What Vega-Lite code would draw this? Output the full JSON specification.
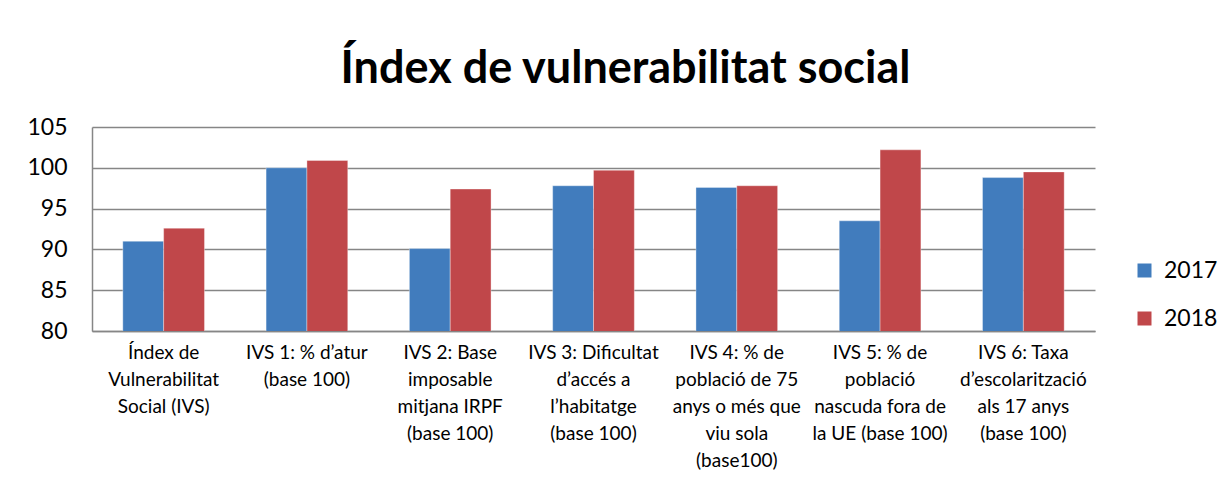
{
  "$schema": "https://vega.github.io/schema/vega-lite/v6.json",
  "width": 1003,
  "height": 204,
  "autosize": {"type": "none"},
  "padding": {"left": 92, "top": 127, "right": 132, "bottom": 153},
  "background": "white",
  "title": {
    "text": "Índex de vulnerabilitat social",
    "font": "Lato",
    "fontSize": 45,
    "fontWeight": "bold",
    "color": "#000000",
    "anchor": "middle",
    "frame": "group",
    "dx": 32,
    "offset": 24
  },
  "data": {
    "values": [
      {"cat": "Índex de|Vulnerabilitat|Social (IVS)", "year": "2017", "value": 91.0},
      {"cat": "Índex de|Vulnerabilitat|Social (IVS)", "year": "2018", "value": 92.6},
      {"cat": "IVS 1: % d’atur|(base 100)", "year": "2017", "value": 100.0},
      {"cat": "IVS 1: % d’atur|(base 100)", "year": "2018", "value": 100.9},
      {"cat": "IVS 2: Base|imposable|mitjana IRPF|(base 100)", "year": "2017", "value": 90.1},
      {"cat": "IVS 2: Base|imposable|mitjana IRPF|(base 100)", "year": "2018", "value": 97.4},
      {"cat": "IVS 3: Dificultat|d’accés a|l’habitatge|(base 100)", "year": "2017", "value": 97.8},
      {"cat": "IVS 3: Dificultat|d’accés a|l’habitatge|(base 100)", "year": "2018", "value": 99.7},
      {"cat": "IVS 4: % de|població de 75|anys o més que|viu sola|(base100)", "year": "2017", "value": 97.6},
      {"cat": "IVS 4: % de|població de 75|anys o més que|viu sola|(base100)", "year": "2018", "value": 97.8},
      {"cat": "IVS 5: % de|població|nascuda fora de|la UE (base 100)", "year": "2017", "value": 93.5},
      {"cat": "IVS 5: % de|població|nascuda fora de|la UE (base 100)", "year": "2018", "value": 102.2},
      {"cat": "IVS 6: Taxa|d’escolarització|als 17 anys|(base 100)", "year": "2017", "value": 98.8},
      {"cat": "IVS 6: Taxa|d’escolarització|als 17 anys|(base 100)", "year": "2018", "value": 99.5}
    ]
  },
  "mark": {"type": "bar", "clip": true, "stroke": "white", "strokeOpacity": 0.35, "strokeWidth": 1},
  "encoding": {
    "x": {
      "field": "cat",
      "type": "nominal",
      "sort": null,
      "scale": {"paddingInner": 0.43, "paddingOuter": 0.215},
      "axis": {
        "title": null,
        "labelAngle": 0,
        "labelExpr": "split(datum.label, '|')",
        "labelFont": "Lato",
        "labelFontSize": 19,
        "labelColor": "#000000",
        "labelLineHeight": 27,
        "labelBaseline": "top",
        "labelPadding": 12,
        "labelLimit": 0,
        "ticks": false,
        "domainColor": "#868686",
        "domainWidth": 1.5,
        "grid": false
      }
    },
    "xOffset": {"field": "year", "type": "nominal", "scale": {"paddingInner": 0, "paddingOuter": 0}},
    "y": {
      "field": "value",
      "type": "quantitative",
      "scale": {"domain": [80, 105], "zero": false, "nice": false},
      "axis": {
        "title": null,
        "values": [80, 85, 90, 95, 100, 105],
        "labelFont": "Lato",
        "labelFontSize": 23,
        "labelColor": "#000000",
        "labelPadding": 25,
        "ticks": false,
        "domainColor": "#868686",
        "domainWidth": 1.5,
        "gridColor": "#868686",
        "gridWidth": 1.5
      }
    },
    "color": {
      "field": "year",
      "type": "nominal",
      "scale": {"domain": ["2017", "2018"], "range": ["#417CBD", "#C0474A"]},
      "legend": {
        "title": null,
        "orient": "none",
        "legendX": 1041,
        "legendY": 132,
        "padding": 0,
        "symbolType": "square",
        "symbolSize": 196,
        "symbolStrokeWidth": 0,
        "labelFont": "Lato",
        "labelFontSize": 23,
        "labelColor": "#000000",
        "labelOffset": 8,
        "rowPadding": 24
      }
    }
  },
  "config": {
    "view": {"stroke": null}
  }
}
